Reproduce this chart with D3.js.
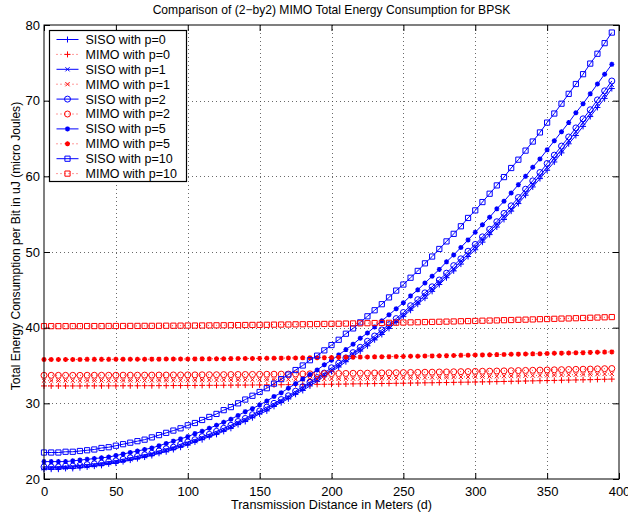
<!DOCTYPE html>
<html><head><meta charset="utf-8">
<script src="https://cdn.jsdelivr.net/npm/d3@7"></script>
<style>
body{margin:0;background:#fff;}
svg{display:block;font-family:"Liberation Sans",Arial,Helvetica,sans-serif;}
</style>
</head><body>
<svg id="chart" width="628" height="520"></svg>
<script>
const distance = [0,5,10,15,20,25,30,35,40,45,50,55,60,65,70,75,80,85,90,95,
  100,105,110,115,120,125,130,135,140,145,150,155,160,165,170,175,180,185,190,195,
  200,205,210,215,220,225,230,235,240,245,250,255,260,265,270,275,280,285,290,295,
  300,305,310,315,320,325,330,335,340,345,350,355,360,365,370,375,380,385,390,395];

const sisoP0 = [21.3,21.3,21.3,21.4,21.4,21.5,21.6,21.7,21.8,22.0,
  22.1,22.3,22.5,22.7,22.9,23.1,23.4,23.6,23.9,24.2,
  24.5,24.9,25.2,25.6,25.9,26.3,26.7,27.2,27.6,28.1,
  28.6,29.0,29.6,30.1,30.6,31.2,31.7,32.3,32.9,33.6,
  34.2,34.8,35.5,36.2,36.9,37.6,38.4,39.1,39.9,40.7,
  41.5,42.3,43.1,43.9,44.8,45.7,46.6,47.5,48.4,49.4,
  50.3,51.3,52.3,53.3,54.3,55.4,56.4,57.5,58.6,59.7,
  60.8,61.9,63.1,64.3,65.4,66.6,67.9,69.1,70.3,71.6];

const sisoP1 = [21.4,21.5,21.5,21.5,21.6,21.7,21.7,21.8,22.0,22.1,
  22.3,22.4,22.6,22.8,23.0,23.3,23.5,23.8,24.1,24.4,
  24.7,25.0,25.4,25.7,26.1,26.5,26.9,27.4,27.8,28.3,
  28.8,29.3,29.8,30.3,30.8,31.4,32.0,32.6,33.2,33.8,
  34.4,35.1,35.8,36.5,37.2,37.9,38.6,39.4,40.2,40.9,
  41.7,42.6,43.4,44.3,45.1,46.0,46.9,47.8,48.8,49.7,
  50.7,51.7,52.7,53.7,54.7,55.7,56.8,57.9,59.0,60.1,
  61.2,62.4,63.5,64.7,65.9,67.1,68.3,69.6,70.8,72.1];

const sisoP2 = [21.6,21.6,21.6,21.7,21.7,21.8,21.9,22.0,22.1,22.3,
  22.4,22.6,22.8,23.0,23.2,23.4,23.7,24.0,24.2,24.6,
  24.9,25.2,25.6,25.9,26.3,26.7,27.1,27.6,28.0,28.5,
  29.0,29.5,30.0,30.5,31.0,31.6,32.2,32.8,33.4,34.0,
  34.7,35.3,36.0,36.7,37.4,38.2,38.9,39.7,40.4,41.2,
  42.0,42.9,43.7,44.6,45.4,46.3,47.2,48.2,49.1,50.1,
  51.0,52.0,53.0,54.0,55.1,56.1,57.2,58.3,59.4,60.5,
  61.7,62.8,64.0,65.2,66.4,67.6,68.8,70.1,71.3,72.6];

const sisoP5 = [22.3,22.3,22.3,22.3,22.4,22.5,22.6,22.7,22.8,22.9,
  23.1,23.3,23.5,23.7,23.9,24.1,24.4,24.7,25.0,25.3,
  25.6,26.0,26.3,26.7,27.1,27.5,27.9,28.4,28.9,29.3,
  29.8,30.3,30.9,31.4,32.0,32.6,33.2,33.8,34.4,35.1,
  35.7,36.4,37.1,37.8,38.6,39.3,40.1,40.9,41.7,42.5,
  43.3,44.2,45.0,45.9,46.8,47.7,48.7,49.6,50.6,51.6,
  52.6,53.6,54.6,55.7,56.7,57.8,58.9,60.0,61.2,62.3,
  63.5,64.7,65.9,67.1,68.4,69.6,70.9,72.2,73.5,74.8];

const sisoP10 = [23.5,23.5,23.5,23.6,23.6,23.7,23.8,23.9,24.1,24.2,
  24.4,24.6,24.8,25.0,25.2,25.5,25.8,26.1,26.4,26.7,
  27.1,27.4,27.8,28.2,28.6,29.1,29.5,30.0,30.5,31.0,
  31.5,32.0,32.6,33.2,33.8,34.4,35.0,35.7,36.3,37.0,
  37.7,38.4,39.2,39.9,40.7,41.5,42.3,43.1,44.0,44.9,
  45.7,46.6,47.5,48.5,49.4,50.4,51.4,52.4,53.4,54.5,
  55.5,56.6,57.7,58.8,59.9,61.1,62.2,63.4,64.6,65.8,
  67.1,68.3,69.6,70.9,72.2,73.5,74.9,76.2,77.6,79.0];

const mimoP0 = [32.30,32.30,32.30,32.30,32.30,32.30,32.31,32.31,32.31,32.31,
  32.31,32.32,32.32,32.32,32.33,32.33,32.34,32.34,32.35,32.35,
  32.36,32.36,32.37,32.38,32.38,32.39,32.40,32.41,32.41,32.42,
  32.43,32.44,32.45,32.46,32.47,32.48,32.49,32.50,32.51,32.52,
  32.53,32.54,32.55,32.57,32.58,32.59,32.61,32.62,32.63,32.65,
  32.66,32.68,32.69,32.71,32.72,32.74,32.75,32.77,32.79,32.80,
  32.82,32.84,32.85,32.87,32.89,32.91,32.93,32.95,32.97,32.99,
  33.01,33.03,33.05,33.07,33.09,33.11,33.13,33.16,33.18,33.20];

const mimoP1 = [33.00,33.00,33.00,33.00,33.00,33.00,33.01,33.01,33.01,33.01,
  33.01,33.02,33.02,33.02,33.03,33.03,33.04,33.04,33.05,33.05,
  33.06,33.06,33.07,33.08,33.08,33.09,33.10,33.11,33.11,33.12,
  33.13,33.14,33.15,33.16,33.17,33.18,33.19,33.20,33.21,33.22,
  33.23,33.24,33.25,33.27,33.28,33.29,33.31,33.32,33.33,33.35,
  33.36,33.38,33.39,33.41,33.42,33.44,33.45,33.47,33.49,33.50,
  33.52,33.54,33.55,33.57,33.59,33.61,33.63,33.65,33.67,33.69,
  33.71,33.73,33.75,33.77,33.79,33.81,33.83,33.86,33.88,33.90];

const mimoP2 = [33.70,33.70,33.70,33.70,33.70,33.70,33.71,33.71,33.71,33.71,
  33.71,33.72,33.72,33.72,33.73,33.73,33.74,33.74,33.75,33.75,
  33.76,33.76,33.77,33.78,33.78,33.79,33.80,33.81,33.81,33.82,
  33.83,33.84,33.85,33.86,33.87,33.88,33.89,33.90,33.91,33.92,
  33.93,33.94,33.95,33.97,33.98,33.99,34.01,34.02,34.03,34.05,
  34.06,34.08,34.09,34.11,34.12,34.14,34.15,34.17,34.19,34.20,
  34.22,34.24,34.25,34.27,34.29,34.31,34.33,34.35,34.37,34.39,
  34.41,34.43,34.45,34.47,34.49,34.51,34.53,34.56,34.58,34.60];

const mimoP5 = [35.80,35.80,35.80,35.80,35.80,35.80,35.81,35.81,35.81,35.81,
  35.82,35.82,35.82,35.83,35.83,35.84,35.84,35.85,35.85,35.86,
  35.86,35.87,35.88,35.88,35.89,35.90,35.91,35.92,35.93,35.93,
  35.94,35.95,35.96,35.97,35.99,36.00,36.01,36.02,36.03,36.04,
  36.06,36.07,36.08,36.10,36.11,36.12,36.14,36.15,36.17,36.18,
  36.20,36.22,36.23,36.25,36.27,36.28,36.30,36.32,36.34,36.36,
  36.38,36.40,36.42,36.44,36.46,36.48,36.50,36.52,36.54,36.56,
  36.59,36.61,36.63,36.65,36.68,36.70,36.73,36.75,36.77,36.80];

const mimoP10 = [40.20,40.20,40.20,40.20,40.20,40.20,40.21,40.21,40.21,40.22,
  40.22,40.22,40.23,40.23,40.24,40.24,40.25,40.26,40.26,40.27,
  40.28,40.28,40.29,40.30,40.31,40.32,40.33,40.34,40.35,40.36,
  40.37,40.38,40.40,40.41,40.42,40.44,40.45,40.46,40.48,40.49,
  40.51,40.52,40.54,40.56,40.57,40.59,40.61,40.62,40.64,40.66,
  40.68,40.70,40.72,40.74,40.76,40.78,40.80,40.82,40.85,40.87,
  40.89,40.92,40.94,40.96,40.99,41.01,41.04,41.06,41.09,41.12,
  41.14,41.17,41.20,41.22,41.25,41.28,41.31,41.34,41.37,41.40];

const xTicks = [0,50,100,150,200,250,300,350,400];
const yTicks = [20,30,40,50,60,70,80];
const legendLabels = ["SISO with p=0","MIMO with p=0","SISO with p=1","MIMO with p=1",
  "SISO with p=2","MIMO with p=2","SISO with p=5","MIMO with p=5","SISO with p=10","MIMO with p=10"];
const titleText = "Comparison of (2\u2212by2) MIMO Total Energy Consumption for BPSK";
const xLabelText = "Transmission Distance in Meters (d)";
const yLabelText = "Total Energy Consumption per Bit in uJ (micro Joules)";

// ---- rendering ----
const BLUE = "#0000ff", RED = "#ff0000";
const seriesValues = [sisoP0, mimoP0, sisoP1, mimoP1, sisoP2, mimoP2, sisoP5, mimoP5, sisoP10, mimoP10];
const markerKinds = ["plus","plus","cross","cross","circle","circle","star","star","square","square"];
const series = seriesValues.map((v, i) => ({
  name: legendLabels[i], values: v, siso: i % 2 === 0, marker: markerKinds[i]
}));

const markerPath = {
  plus: `M-3,0H3M0,-3V3`,
  cross: `M-2.1,-2.1L2.1,2.1M-2.1,2.1L2.1,-2.1`,
  star: `M-2.5,0H2.5M0,-2.5V2.5M-1.8,-1.8L1.8,1.8M-1.8,1.8L1.8,-1.8`,
  square: `M-2.6,-2.6H2.6V2.6H-2.6Z`,
  circle: `M3,0A3,3 0 1,1 -3,0A3,3 0 1,1 3,0Z`
};
const markerWidth = {plus:1, cross:1, star:1.4, square:1, circle:1};

const svg = d3.select("#chart");
svg.append("rect").attr("width",628).attr("height",520).attr("fill","#fff");

const L = 44, R = 619, T = 25, B = 479;
const x = d3.scaleLinear().domain([0,400]).range([L,R]);
const y = d3.scaleLinear().domain([20,80]).range([B,T]);

// grid
const grid = svg.append("g").attr("stroke","#444").attr("stroke-width",0.8)
  .attr("stroke-dasharray","1,3");
grid.selectAll("line.gx").data(xTicks.slice(1,-1)).join("line")
  .attr("x1",d=>Math.round(x(d))+0.5).attr("x2",d=>Math.round(x(d))+0.5)
  .attr("y1",T).attr("y2",B);
grid.selectAll("line.gy").data(yTicks.slice(1,-1)).join("line")
  .attr("y1",d=>Math.round(y(d))+0.5).attr("y2",d=>Math.round(y(d))+0.5)
  .attr("x1",L).attr("x2",R);

// series
const line = d3.line().x((d,i)=>x(distance[i])).y(d=>y(d));
series.forEach(s => {
  const col = s.siso ? BLUE : RED;
  const g = svg.append("g");
  g.append("path").datum(s.values).attr("d", line)
    .attr("fill","none").attr("stroke",col)
    .attr("stroke-width", s.siso ? 1 : 0.8)
    .attr("stroke-dasharray", s.siso ? null : "1,3");
  g.selectAll("path.m").data(s.values).join("path").attr("class","m")
    .attr("d", markerPath[s.marker])
    .attr("transform",(d,i)=>`translate(${x(distance[i])},${y(d)})`)
    .attr("fill","none").attr("stroke",col).attr("stroke-width",markerWidth[s.marker]);
});

// axes (ticks inward, MATLAB style)
const fontSize = 13;
const axB = svg.append("g").attr("transform",`translate(0,${B})`)
  .call(d3.axisBottom(x).tickValues(xTicks).tickSizeInner(-6).tickSizeOuter(0).tickPadding(7.5));
const axL = svg.append("g").attr("transform",`translate(${L},0)`)
  .call(d3.axisLeft(y).tickValues(yTicks).tickSizeInner(-6).tickSizeOuter(0).tickPadding(4));
const axT = svg.append("g").attr("transform",`translate(0,${T})`)
  .call(d3.axisTop(x).tickValues(xTicks).tickSizeInner(-6).tickSizeOuter(0).tickFormat(""));
const axR = svg.append("g").attr("transform",`translate(${R},0)`)
  .call(d3.axisRight(y).tickValues(yTicks).tickSizeInner(-6).tickSizeOuter(0).tickFormat(""));
[axB,axL,axT,axR].forEach(a => {
  a.select(".domain").remove();
  a.selectAll("line").attr("stroke","#000");
  a.selectAll("text").attr("font-size",fontSize).attr("fill","#000")
    .attr("font-family",'"Liberation Sans",Arial,Helvetica,sans-serif');
});

// box
svg.append("rect").attr("x",L).attr("y",T).attr("width",R-L).attr("height",B-T)
  .attr("fill","none").attr("stroke","#000").attr("stroke-width",1);

// title & labels
svg.append("text").attr("x",(L+R)/2).attr("y",14).attr("text-anchor","middle")
  .attr("font-size",12.1).text(titleText);
svg.append("text").attr("x",(L+R)/2).attr("y",509).attr("text-anchor","middle")
  .attr("font-size",12.6).text(xLabelText);
svg.append("text").attr("transform","translate(20,246) rotate(-90)").attr("text-anchor","middle")
  .attr("font-size",12.1).text(yLabelText);

// legend
const lg = svg.append("g");
lg.append("rect").attr("x",49.5).attr("y",30.5).attr("width",137).attr("height",151)
  .attr("fill","#fff").attr("stroke","#000").attr("stroke-width",1.2);
series.forEach((s,i) => {
  const yy = 39.5 + i*14.9;
  const col = s.siso ? BLUE : RED;
  lg.append("line").attr("x1",56.5).attr("x2",78.5).attr("y1",yy).attr("y2",yy)
    .attr("stroke",col).attr("stroke-width", s.siso ? 1 : 0.8)
    .attr("stroke-dasharray", s.siso ? null : "1,3");
  lg.append("path").attr("d",markerPath[s.marker]).attr("transform",`translate(67.5,${yy})`)
    .attr("fill","none").attr("stroke",col).attr("stroke-width",markerWidth[s.marker]);
  lg.append("text").attr("x",85.5).attr("y",yy+4.4).attr("font-size",12.5).text(s.name);
});
</script>
</body></html>
